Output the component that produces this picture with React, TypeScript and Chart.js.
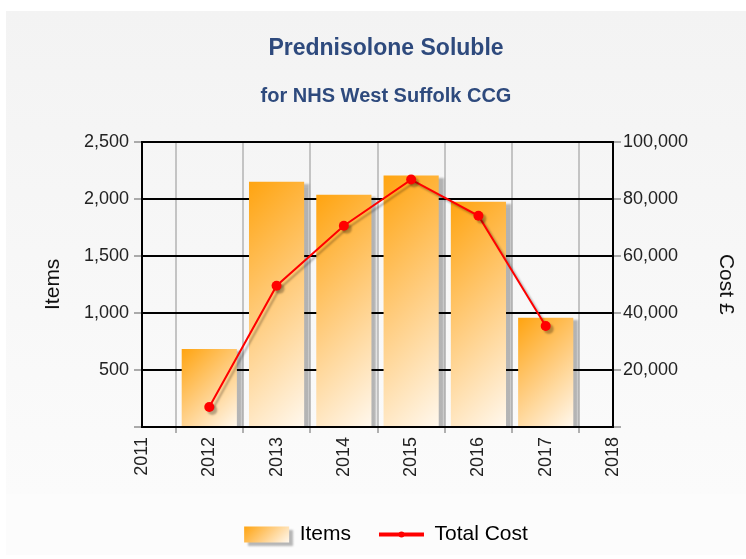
import React, { useEffect, useRef } from 'react';
import { Chart, registerables } from 'chart.js';

Chart.register(...registerables);

const years = [2012, 2013, 2014, 2015, 2016, 2017];
const items = [684, 2149, 2035, 2202, 1974, 956];
const totalCost = [7000, 49500, 70500, 86700, 74000, 35400];
const xRange = [2011, 2018];
const itemsAxis = { max: 2500, step: 500 };
const costAxis = { max: 100000, step: 20000 };

const FONT = "'Liberation Sans', Arial, sans-serif";
const BAR_FRACTION = 0.82;

function barGradient(ctx: CanvasRenderingContext2D, x0: number, y0: number, w: number, h: number) {
  const L = (w + h) / 2;
  const g = ctx.createLinearGradient(x0, y0, x0 + L, y0 + L);
  g.addColorStop(0, '#FFA410');
  g.addColorStop(0.5, '#FFCD80');
  g.addColorStop(1, '#FFF8EE');
  return g;
}

const backgroundPlugin = {
  id: 'bgPanel',
  beforeDraw(chart: any) {
    const { ctx, width, height } = chart;
    ctx.save();
    ctx.fillStyle = '#ffffff';
    ctx.fillRect(0, 0, width, height);
    const g = ctx.createLinearGradient(0, 11, 0, 494);
    g.addColorStop(0, '#f3f3f3');
    g.addColorStop(1, '#fbfbfb');
    ctx.fillStyle = g;
    ctx.fillRect(6, 11, width - 6, 483);
    ctx.fillStyle = '#fcfcfc';
    ctx.fillRect(6, 494, width - 6, 61);
    ctx.restore();
  },
};

const shadowPlugin = {
  id: 'shadows',
  beforeDatasetDraw(chart: any, args: any) {
    const ctx = chart.ctx;
    ctx.save();
    ctx.shadowColor = 'rgba(0,0,0,0.28)';
    if (args.index === 0) {
      ctx.shadowOffsetX = 5;
      ctx.shadowOffsetY = 2;
      ctx.shadowBlur = 2;
    } else {
      ctx.shadowOffsetX = 3;
      ctx.shadowOffsetY = 3;
      ctx.shadowBlur = 2;
    }
  },
  afterDatasetDraw(chart: any) {
    chart.ctx.restore();
  },
};

const legendSymbolPlugin = {
  id: 'legendSymbols',
  afterDraw(chart: any) {
    const legend = chart.legend;
    if (!legend || !legend.legendHitBoxes || legend.legendHitBoxes.length < 2) return;
    const ctx = chart.ctx;
    const fontSize = 21;
    const hb0 = legend.legendHitBoxes[0];
    const cy0 = hb0.top + fontSize / 2;
    ctx.save();
    ctx.shadowColor = 'rgba(0,0,0,0.28)';
    ctx.shadowOffsetX = 4;
    ctx.shadowOffsetY = 3;
    ctx.shadowBlur = 2;
    ctx.fillStyle = barGradient(ctx, hb0.left, cy0 - 8, 45, 16);
    ctx.fillRect(hb0.left, cy0 - 8, 45, 16);
    ctx.restore();
    const hb1 = legend.legendHitBoxes[1];
    const cy1 = hb1.top + fontSize / 2;
    ctx.save();
    ctx.fillStyle = '#FF0000';
    ctx.beginPath();
    ctx.arc(hb1.left + 22.5, cy1, 3, 0, Math.PI * 2);
    ctx.fill();
    ctx.restore();
  },
};

export default function App() {
  const ref = useRef<HTMLCanvasElement | null>(null);

  useEffect(() => {
    document.body.style.margin = '0';
    const canvas = ref.current;
    if (!canvas) return;

    const chart = new Chart(canvas, {
      type: 'bar',
      data: {
        datasets: [
          {
            type: 'bar',
            label: 'Items',
            data: years.map((x, i) => ({ x, y: items[i] })),
            yAxisID: 'y',
            order: 2,
            barPercentage: 1,
            categoryPercentage: BAR_FRACTION,
            borderWidth: 0,
            backgroundColor: (c: any) => {
              const ch = c.chart;
              if (!ch.chartArea || c.type !== 'data' || !c.raw) return '#FFC060';
              const xs = ch.scales.x;
              const ys = ch.scales.y;
              const half = ((xs.getPixelForValue(xRange[0] + 1) - xs.getPixelForValue(xRange[0])) * BAR_FRACTION) / 2;
              const cx = xs.getPixelForValue(c.raw.x);
              const top = ys.getPixelForValue(c.raw.y);
              const base = ys.getPixelForValue(0);
              return barGradient(ch.ctx, cx - half, top, half * 2, base - top);
            },
          } as any,
          {
            type: 'line',
            label: 'Total Cost',
            data: years.map((x, i) => ({ x, y: totalCost[i] })),
            yAxisID: 'y1',
            order: 1,
            borderColor: '#FF0000',
            borderWidth: 2,
            pointRadius: 5,
            pointBackgroundColor: '#FF0000',
            pointBorderWidth: 0,
            tension: 0,
          } as any,
        ],
      },
      options: {
        responsive: false,
        animation: false,
        devicePixelRatio: 1,
        layout: { padding: { top: 0, left: 26, right: 0, bottom: 4 } },
        plugins: {
          title: {
            display: true,
            text: 'Prednisolone Soluble',
            color: '#2E4A7D',
            font: { family: FONT, size: 23, weight: 'bold' },
            padding: { top: 35, bottom: 22 },
          },
          subtitle: {
            display: true,
            text: 'for NHS West Suffolk CCG',
            color: '#2E4A7D',
            font: { family: FONT, size: 20, weight: 'bold' },
            padding: { top: 0, bottom: 33 },
          },
          legend: {
            display: true,
            position: 'bottom',
            labels: {
              usePointStyle: true,
              pointStyleWidth: 45,
              boxHeight: 16,
              padding: 28,
              color: '#1a1a1a',
              font: { family: FONT, size: 21 },
              generateLabels: () => [
                {
                  text: 'Items',
                  fillStyle: 'rgba(0,0,0,0)',
                  strokeStyle: 'rgba(0,0,0,0)',
                  lineWidth: 0,
                  pointStyle: 'rect',
                  datasetIndex: 0,
                  hidden: false,
                },
                {
                  text: 'Total Cost',
                  fillStyle: '#FF0000',
                  strokeStyle: '#FF0000',
                  lineWidth: 4,
                  pointStyle: 'line',
                  datasetIndex: 1,
                  hidden: false,
                },
              ],
            },
          } as any,
          tooltip: { enabled: false },
        },
        scales: {
          x: {
            type: 'linear',
            min: xRange[0],
            max: xRange[1],
            offset: false,
            ticks: {
              stepSize: 1,
              autoSkip: false,
              minRotation: 90,
              maxRotation: 90,
              padding: 4,
              color: '#222',
              font: { family: FONT, size: 18 },
              callback: (v: any) => String(v),
            },
            grid: { color: '#c4c4c4', lineWidth: 2, tickLength: 6, tickColor: '#b0b0b0' },
            border: { display: true, color: '#000', width: 2 },
            afterFit: (s: any) => {
              s.height = 69;
            },
          } as any,
          y: {
            type: 'linear',
            position: 'left',
            min: 0,
            max: itemsAxis.max,
            ticks: {
              stepSize: itemsAxis.step,
              padding: 5,
              color: '#222',
              font: { family: FONT, size: 18 },
              callback: (v: any) => (v === 0 ? '' : Number(v).toLocaleString('en-US')),
            },
            grid: { color: '#000', lineWidth: 2, tickLength: 8, tickColor: '#aaa' },
            border: { display: true, color: '#000', width: 2 },
            title: {
              display: true,
              text: 'Items',
              color: '#111',
              font: { family: FONT, size: 21 },
              padding: { top: 15, bottom: 0 },
            },
            afterFit: (s: any) => {
              s.width = 116;
            },
          } as any,
          y1: {
            type: 'linear',
            position: 'right',
            min: 0,
            max: costAxis.max,
            ticks: {
              stepSize: costAxis.step,
              padding: 2,
              color: '#222',
              font: { family: FONT, size: 18 },
              callback: (v: any) => (v === 0 ? '' : Number(v).toLocaleString('en-US')),
            },
            grid: { drawOnChartArea: false, tickLength: 8, tickColor: '#aaa', lineWidth: 2 },
            border: { display: true, color: '#000', width: 2 },
            title: {
              display: true,
              text: 'Cost £',
              color: '#111',
              font: { family: FONT, size: 21 },
              padding: { top: 8, bottom: 0 },
            },
            afterFit: (s: any) => {
              s.width = 133;
            },
          } as any,
        },
      },
      plugins: [backgroundPlugin, shadowPlugin, legendSymbolPlugin],
    } as any);

    return () => chart.destroy();
  }, []);

  return (
    <div style={{ width: 746, height: 559 }}>
      <canvas ref={ref} width={746} height={559} style={{ display: 'block' }} />
    </div>
  );
}
